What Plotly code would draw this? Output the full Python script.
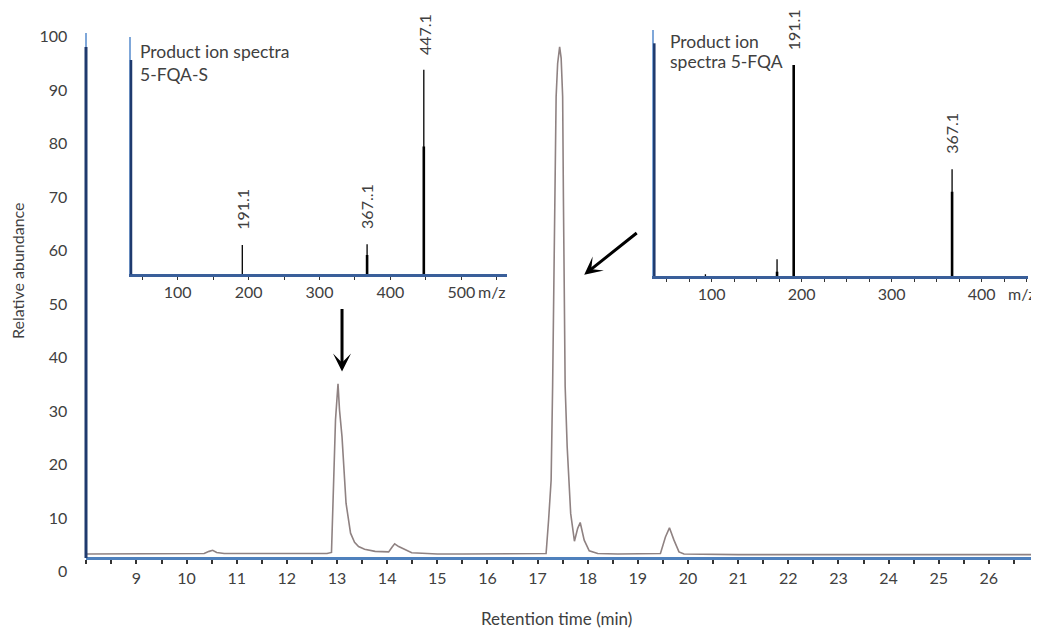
import plotly.graph_objects as go

# The page body adds an 8 px margin; the figure is sized so that it fills the 1039x628 window.
OFF = 8
W, H = 1039 - OFF, 628 - OFF

# ---------------- data ----------------
# Chromatogram (retention time in min, relative abundance)
rt_min = [8.00, 8.50, 9.00, 9.50, 10.00, 10.35, 10.45, 10.52, 10.60, 10.75, 11.00, 11.50,
          12.00, 12.50, 12.80, 12.89, 12.94, 12.97, 13.02, 13.05, 13.10, 13.18, 13.27, 13.35,
          13.43, 13.55, 13.76, 14.03, 14.10, 14.15, 14.23, 14.36, 14.49, 14.80, 15.00, 15.50,
          16.00, 16.50, 17.00, 17.17, 17.22, 17.27, 17.30, 17.32, 17.34, 17.37, 17.40, 17.44,
          17.47, 17.50, 17.515, 17.53, 17.55, 17.59, 17.66, 17.735, 17.80, 17.85, 17.90, 17.93,
          18.03, 18.20, 18.60, 19.00, 19.45, 19.55, 19.63, 19.72, 19.82, 19.92, 20.50, 21.00,
          22.00, 23.00, 24.00, 25.00, 26.00, 27.00]
abundance = [3.3, 3.3, 3.4, 3.3, 3.4, 3.4, 3.8, 4.0, 3.6, 3.4, 3.4, 3.4,
             3.4, 3.4, 3.4, 3.6, 19.0, 28.4, 35.1, 30.2, 25.2, 12.8, 7.2, 5.5,
             4.7, 4.2, 3.8, 3.7, 4.6, 5.2, 4.7, 4.05, 3.55, 3.4, 3.3, 3.3,
             3.3, 3.3, 3.3, 3.4, 9.7, 17.1, 34.6, 50.8, 70.1, 88.8, 95.0, 98.1,
             96.0, 88.8, 70.1, 50.8, 34.6, 23.4, 10.9, 5.7, 8.1, 9.2, 7.2, 5.9,
             3.9, 3.4, 3.3, 3.3, 3.4, 6.5, 8.2, 5.9, 3.7, 3.3, 3.2, 3.2,
             3.2, 3.2, 3.2, 3.2, 3.2, 3.2]
x_ticks = list(range(9, 28))
y_ticks = list(range(0, 101, 10))

# Left inset: product ion spectra 5-FQA-S
left_mz = [191.1, 367.1, 447.1]
left_int = [14.2, 14.5, 99.0]
left_core = [0.0, 9.3, 61.8]
left_labels = ["191.1", "367..1", "447.1"]
left_ticks = [100, 200, 300, 400, 500]

# Right inset: product ion spectra 5-FQA
right_mz = [93.0, 172.6, 191.1, 367.1]
right_int = [0.8, 7.8, 98.6, 49.9]
right_core = [0.0, 2.0, 98.6, 39.4]
right_labels = ["", "", "191.1", "367.1"]
right_ticks = [100, 200, 300, 400]

FONT = "Lato"
TXT = "#404040"


def px_x(p):
    return (p - OFF) / W


def px_y(p):
    return 1 - (p - OFF) / H


def sticks(mz, h):
    xs, ys = [], []
    for m, v in zip(mz, h):
        if v > 0:
            xs += [m, m, None]
            ys += [0, v, None]
    return xs, ys


fig = go.Figure()

fig.add_trace(go.Scatter(x=rt_min, y=abundance, mode="lines",
                         line=dict(color="#8f8282", width=1.6),
                         xaxis="x", yaxis="y", hoverinfo="skip"))

for mz, hi, core, xa, ya in [(left_mz, left_int, left_core, "x2", "y2"),
                             (right_mz, right_int, right_core, "x3", "y3")]:
    xs, ys = sticks(mz, hi)
    fig.add_trace(go.Scatter(x=xs, y=ys, mode="lines", line=dict(color="black", width=1.3),
                             xaxis=xa, yaxis=ya, hoverinfo="skip"))
    xs, ys = sticks(mz, core)
    fig.add_trace(go.Scatter(x=xs, y=ys, mode="lines", line=dict(color="black", width=2.6),
                             xaxis=xa, yaxis=ya, hoverinfo="skip"))

tickfont = dict(family=FONT, size=16, color=TXT)

layout = dict(
    width=W, height=H,
    margin=dict(l=0, r=0, t=0, b=0),
    paper_bgcolor="white", plot_bgcolor="rgba(0,0,0,0)",
    showlegend=False,
    font=dict(family=FONT, color=TXT),
    xaxis=dict(domain=[px_x(86.3), 1.0], range=[8, 27], anchor="free", position=px_y(558),
               showline=True, linecolor="#4f81bd", linewidth=3,
               tickmode="array", tickvals=x_ticks, ticks="outside", ticklen=4, tickwidth=1.5,
               tickcolor="#333333",
               minor=dict(tickmode="linear", tick0=0, dtick=0.5, ticks="outside", ticklen=4,
                          tickwidth=1.5, tickcolor="#333333"),
               tickfont=tickfont, ticklabelstandoff=1,
               showgrid=False, zeroline=False, automargin=False),
    yaxis=dict(domain=[px_y(571.7), px_y(36.7)], range=[0, 100], anchor="x",
               showline=False, tickmode="array", tickvals=y_ticks, ticks="",
               tickfont=tickfont, ticklabelstandoff=18,
               showgrid=False, zeroline=False, automargin=False),
    xaxis2=dict(domain=[px_x(131), px_x(506.7)], range=[34.13, 564.0], anchor="y2",
                showline=True, linecolor="#3a5f9a", linewidth=2.5,
                tickmode="array", tickvals=left_ticks, ticks="outside", ticklen=3, tickwidth=1.2,
                tickcolor="#333333",
                minor=dict(tickmode="linear", tick0=0, dtick=50, ticks="outside", ticklen=3,
                           tickwidth=1.2, tickcolor="#333333"),
                tickfont=tickfont, ticklabelstandoff=-1,
                showgrid=False, zeroline=False, automargin=False),
    yaxis2=dict(domain=[px_y(274.3), px_y(36.7)], range=[0, 115], anchor="x2",
                showline=True, linecolor="#7fa7d9", linewidth=2,
                showticklabels=False, ticks="", showgrid=False, zeroline=False, automargin=False),
    xaxis3=dict(domain=[px_x(654.3), px_x(1028.3)], range=[36.2, 451.8], anchor="y3",
                showline=True, linecolor="#3a5f9a", linewidth=2.5,
                tickmode="array", tickvals=right_ticks, ticks="outside", ticklen=3, tickwidth=1.2,
                tickcolor="#333333",
                minor=dict(tickmode="linear", tick0=0, dtick=25, ticks="outside", ticklen=3,
                           tickwidth=1.2, tickcolor="#333333"),
                tickfont=tickfont, ticklabelstandoff=-1,
                showgrid=False, zeroline=False, automargin=False),
    yaxis3=dict(domain=[px_y(276), px_y(30)], range=[0, 115], anchor="x3",
                showline=True, linecolor="#7fa7d9", linewidth=2,
                showticklabels=False, ticks="", showgrid=False, zeroline=False, automargin=False),
)
fig.update_layout(**layout)

# axis decorations (vertical axis lines)
shapes = [
    dict(type="line", xref="paper", yref="paper", x0=px_x(86), x1=px_x(86),
         y0=px_y(558), y1=px_y(33), line=dict(color="#7fa7d9", width=2)),
    dict(type="line", xref="paper", yref="paper", x0=px_x(86), x1=px_x(86),
         y0=px_y(558), y1=px_y(47), line=dict(color="#1f3a6e", width=3)),
    dict(type="line", xref="paper", yref="paper", x0=px_x(131), x1=px_x(131),
         y0=px_y(274.3), y1=px_y(60), line=dict(color="#1f3a6e", width=2.5)),
    dict(type="line", xref="paper", yref="paper", x0=px_x(654.3), x1=px_x(654.3),
         y0=px_y(276), y1=px_y(43.3), line=dict(color="#1f3a6e", width=2.5)),
]
fig.update_layout(shapes=shapes)

ann = []
txtfont = dict(family=FONT, size=17.5, color=TXT)
# axis titles
ann.append(dict(text="Retention time (min)", x=px_x(556.5), y=px_y(618), xref="paper", yref="paper",
                xanchor="center", yanchor="middle", showarrow=False,
                font=dict(family=FONT, size=17, color=TXT)))
ann.append(dict(text="Relative abundance", x=px_x(17), y=px_y(271), xref="paper", yref="paper",
                xanchor="center", yanchor="middle", textangle=-90, showarrow=False,
                font=dict(family=FONT, size=16, color=TXT)))
# inset titles
ann.append(dict(text="Product ion spectra", x=px_x(138.3), y=px_y(51.7), xref="paper", yref="paper",
                xanchor="left", yanchor="middle", showarrow=False, font=txtfont))
ann.append(dict(text="5-FQA-S", x=px_x(138.3), y=px_y(75), xref="paper", yref="paper",
                xanchor="left", yanchor="middle", showarrow=False, font=txtfont))
ann.append(dict(text="Product ion", x=px_x(668.3), y=px_y(41.7), xref="paper", yref="paper",
                xanchor="left", yanchor="middle", showarrow=False, font=txtfont))
ann.append(dict(text="spectra 5-FQA", x=px_x(668.3), y=px_y(61.7), xref="paper", yref="paper",
                xanchor="left", yanchor="middle", showarrow=False, font=txtfont))
# m/z unit labels
ann.append(dict(text="m/z", x=px_x(491.7), y=px_y(291.7), xref="paper", yref="paper",
                xanchor="center", yanchor="middle", showarrow=False,
                font=dict(family=FONT, size=16, color=TXT)))
ann.append(dict(text="m/z", x=px_x(1021.7), y=px_y(293.3), xref="paper", yref="paper",
                xanchor="center", yanchor="middle", showarrow=False,
                font=dict(family=FONT, size=16, color=TXT)))
# peak labels
for mz, hi, lab, xa, ya in ([(m, h, l, "x2", "y2") for m, h, l in zip(left_mz, left_int, left_labels)] +
                            [(m, h, l, "x3", "y3") for m, h, l in zip(right_mz, right_int, right_labels)]):
    if lab:
        ann.append(dict(text=lab, x=mz, y=hi, xref=xa, yref=ya, textangle=-90,
                        xanchor="center", yanchor="bottom", yshift=13, showarrow=False,
                        font=dict(family=FONT, size=16, color=TXT)))
# arrows pointing to the peaks
ann.append(dict(text="", x=13.10, y=37.4, xref="x", yref="y", ax=0, ay=-64,
                showarrow=True, arrowhead=3, arrowsize=1, arrowwidth=3, arrowcolor="black"))
ann.append(dict(text="", x=17.93, y=55.5, xref="x", yref="y", ax=54, ay=-43,
                showarrow=True, arrowhead=3, arrowsize=1, arrowwidth=3, arrowcolor="black"))
fig.update_layout(annotations=ann)

fig.write_html("out.html")
